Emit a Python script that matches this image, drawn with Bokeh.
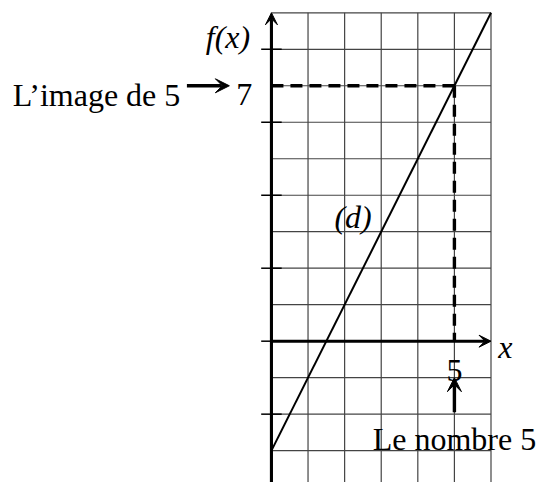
from bokeh.plotting import figure
from bokeh.models import Range1d, Arrow, VeeHead
from bokeh.core.properties import value
from bokeh.embed import file_html
from bokeh.resources import INLINE

# ---- data ----
grid_x = [0, 1, 2, 3, 4, 5, 6]
grid_y = [-3, -2, -1, 0, 1, 2, 3, 4, 5, 6, 7, 8, 9]
ytick_vals = [-2, 0, 2, 4, 6, 8]
line_x = [0, 6]          # droite (d)
line_y = [-3, 9]
x_number = 5             # le nombre 5
y_image = 7              # l'image de 5
x_tick_labels = ["5"]
y_tick_labels = ["7"]

# ---- geometry ----
W, H = 538, 482
x_rng = Range1d(-7.404, 7.298)
y_rng = Range1d(-3.873, 9.337)
ybot = y_rng.start - 0.1
xmax, ymax = max(grid_x), max(grid_y)

p = figure(width=W, height=H, x_range=x_rng, y_range=y_rng,
           output_backend="svg", toolbar_location=None,
           x_axis_type=None, y_axis_type=None, min_border=0)
p.outline_line_color = None
p.xgrid.visible = False
p.ygrid.visible = False
p.background_fill_color = "white"

FONT = value("Liberation Serif")
FS = value("32px")
ink = "black"

# grid
p.segment(x0=grid_x, y0=[ybot] * len(grid_x), x1=grid_x, y1=[ymax] * len(grid_x),
          line_color="#444444", line_width=1.2)
p.segment(x0=[0] * len(grid_y), y0=grid_y, x1=[xmax] * len(grid_y), y1=grid_y,
          line_color="#444444", line_width=1.2)

# y ticks
tk = 0.28
p.segment(x0=[-tk] * len(ytick_vals), y0=ytick_vals, x1=[tk] * len(ytick_vals), y1=ytick_vals,
          line_color=ink, line_width=1.5)

# axes with arrows
p.add_layout(Arrow(end=VeeHead(size=12, fill_color=ink, line_color=ink, line_width=1),
                   x_start=0, y_start=ybot, x_end=0, y_end=ymax,
                   line_width=3.1, line_color=ink))
p.add_layout(Arrow(end=VeeHead(size=12, fill_color=ink, line_color=ink, line_width=1),
                   x_start=0, y_start=0, x_end=xmax, y_end=0,
                   line_width=3.1, line_color=ink))

# dashed construction lines
p.line([0, x_number], [y_image, y_image], line_color=ink, line_width=3.4, line_dash="12 7")
p.line([x_number, x_number], [y_image, 0], line_color=ink, line_width=3.4, line_dash="12 7")

# the straight line (d)
p.line(line_x, line_y, line_color=ink, line_width=2)

# annotation arrows
p.add_layout(Arrow(end=VeeHead(size=14, fill_color=ink, line_color=ink, line_width=1),
                   x_start=-2.31, y_start=y_image, x_end=-1.15, y_end=y_image,
                   line_width=3.4, line_color=ink))
p.add_layout(Arrow(end=VeeHead(size=14, fill_color=ink, line_color=ink, line_width=1),
                   x_start=x_number, y_start=-1.95, x_end=x_number, y_end=-1.0,
                   line_width=3.4, line_color=ink))

# texts
p.text(x=[-2.49], y=[y_image - 0.24], text=["L’image de 5"], text_font=FONT,
       text_font_size=FS, text_align="right", text_baseline="alphabetic", text_color=ink)
p.text(x=[-0.74], y=[y_image - 0.24], text=y_tick_labels, text_font=FONT,
       text_font_size=FS, text_align="center", text_baseline="alphabetic", text_color=ink)
p.text(x=[-0.58], y=[8.33], text=["f(x)"], text_font=FONT, text_font_style="italic",
       text_font_size=FS, text_align="right", text_baseline="alphabetic", text_color=ink)
p.text(x=[x_number], y=[-0.80], text=x_tick_labels, text_font=FONT,
       text_font_size=FS, text_align="center", text_baseline="alphabetic", text_color=ink)
p.text(x=[x_number], y=[-2.68], text=["Le nombre 5"], text_font=FONT,
       text_font_size=FS, text_align="center", text_baseline="alphabetic", text_color=ink)
p.text(x=[2.23], y=[3.40], text=["(d)"], text_font=FONT, text_font_style="italic",
       text_font_size=FS, text_align="center", text_baseline="alphabetic", text_color=ink)
p.text(x=[6.39], y=[-0.16], text=["x"], text_font=FONT, text_font_style="italic",
       text_font_size=FS, text_align="center", text_baseline="alphabetic", text_color=ink)

open("out.html", "w").write(file_html(p, INLINE))
